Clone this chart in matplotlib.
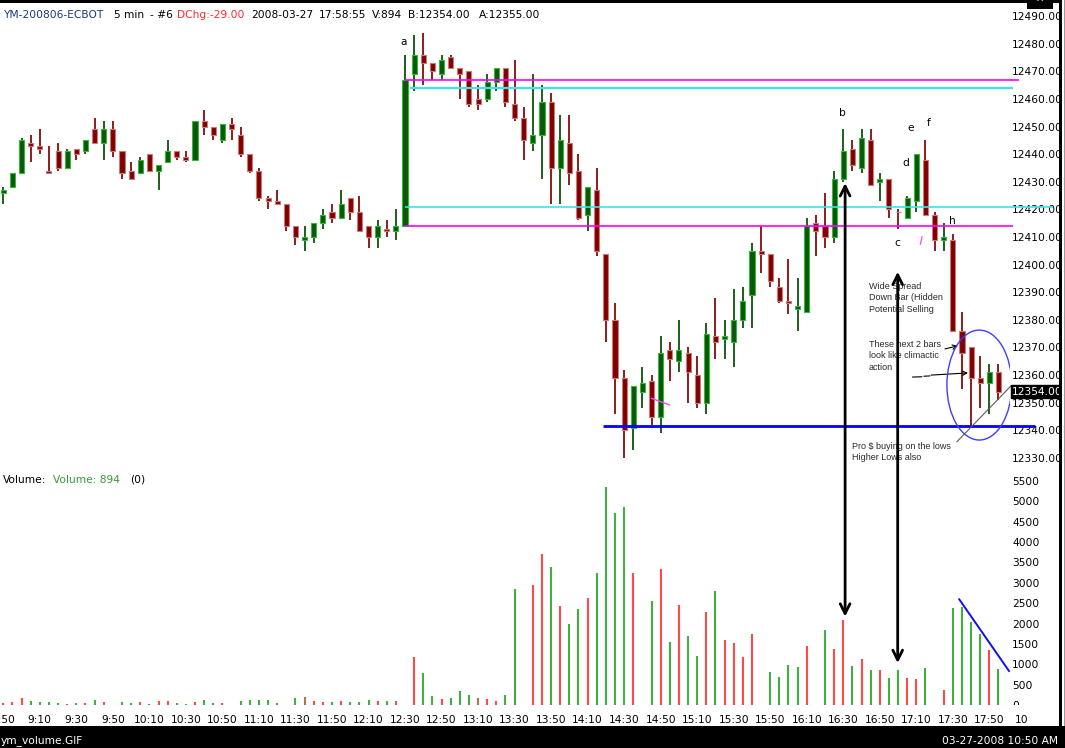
import numpy as np
import pandas as pd
import matplotlib
matplotlib.use("Agg")
import matplotlib.pyplot as plt
from matplotlib.patches import Rectangle, Ellipse, ConnectionPatch
from matplotlib.transforms import Bbox, TransformedBbox, blended_transform_factory

plt.rcParams['font.family'] = ['DejaVu Sans']
FS = 7.7
plt.rcParams['font.size'] = FS

# ---- YM 5-minute bars, 2008-03-27 ----
opens = [12426, 12428, 12433, 12444, 12443, 12434, 12441, 12435, 12442, 12441,
         12449, 12444, 12449, 12441, 12434, 12433, 12440, 12434, 12437, 12441,
         12439, 12438, 12452, 12450, 12445, 12451, 12447, 12440, 12434, 12424,
         12423, 12422, 12414, 12409, 12410, 12415, 12419, 12417, 12424, 12419,
         12414, 12410, 12413, 12412, 12414, 12469, 12476, 12473, 12469, 12475,
         12471, 12470, 12460, 12460, 12466, 12471, 12458, 12453, 12444, 12447,
         12459, 12435, 12444, 12434, 12418, 12427, 12404, 12380, 12359, 12341,
         12354, 12358, 12345, 12369, 12365, 12368, 12360, 12350, 12374, 12373,
         12372, 12380, 12389, 12405, 12404, 12392, 12387, 12384, 12383, 12415,
         12414, 12410, 12431, 12442, 12435, 12445, 12430, 12431, 12419, 12417,
         12423, 12438, 12418, 12409, 12409, 12376, 12370, 12359, 12357, 12361]
highs = [12428, 12433, 12446, 12447, 12449, 12443, 12444, 12442, 12442, 12445,
         12453, 12452, 12452, 12441, 12437, 12439, 12440, 12436, 12445, 12441,
         12441, 12452, 12456, 12450, 12451, 12453, 12450, 12440, 12435, 12425,
         12427, 12422, 12414, 12414, 12415, 12420, 12422, 12427, 12424, 12425,
         12414, 12416, 12416, 12420, 12476, 12483, 12484, 12473, 12476, 12476,
         12471, 12470, 12465, 12469, 12471, 12471, 12474, 12457, 12469, 12465,
         12462, 12454, 12454, 12440, 12428, 12435, 12404, 12386, 12362, 12356,
         12363, 12360, 12374, 12372, 12380, 12370, 12367, 12379, 12388, 12380,
         12391, 12392, 12408, 12414, 12404, 12395, 12402, 12395, 12417, 12418,
         12426, 12434, 12449, 12445, 12449, 12449, 12433, 12431, 12420, 12425,
         12440, 12445, 12419, 12415, 12411, 12383, 12370, 12367, 12364, 12364]
lows = [12422, 12428, 12433, 12437, 12440, 12433, 12434, 12435, 12438, 12440,
        12444, 12438, 12439, 12431, 12431, 12433, 12434, 12427, 12437, 12438,
        12437, 12438, 12447, 12445, 12444, 12445, 12439, 12433, 12423, 12420,
        12422, 12412, 12407, 12405, 12408, 12413, 12415, 12417, 12416, 12412,
        12406, 12406, 12410, 12409, 12414, 12463, 12465, 12467, 12467, 12471,
        12460, 12457, 12456, 12459, 12463, 12457, 12452, 12438, 12441, 12431,
        12422, 12422, 12429, 12416, 12412, 12403, 12372, 12346, 12330, 12333,
        12348, 12342, 12339, 12358, 12361, 12350, 12348, 12346, 12366, 12366,
        12363, 12377, 12377, 12397, 12392, 12386, 12382, 12376, 12383, 12403,
        12406, 12408, 12430, 12434, 12433, 12429, 12423, 12417, 12413, 12417,
        12419, 12418, 12405, 12405, 12376, 12355, 12342, 12348, 12346, 12351]
closes = [12427, 12433, 12445, 12443, 12442, 12433, 12435, 12441, 12440, 12445,
          12444, 12449, 12441, 12433, 12431, 12438, 12434, 12436, 12441, 12439,
          12438, 12452, 12450, 12447, 12451, 12449, 12440, 12434, 12424, 12423,
          12422, 12414, 12410, 12410, 12415, 12418, 12417, 12422, 12419, 12412,
          12410, 12414, 12412, 12414, 12467, 12476, 12473, 12470, 12474, 12471,
          12469, 12458, 12458, 12466, 12471, 12459, 12453, 12445, 12447, 12459,
          12435, 12445, 12433, 12417, 12428, 12405, 12380, 12359, 12340, 12356,
          12357, 12345, 12368, 12366, 12369, 12361, 12350, 12375, 12372, 12374,
          12380, 12387, 12405, 12404, 12394, 12387, 12386, 12385, 12414, 12412,
          12410, 12431, 12441, 12436, 12446, 12429, 12431, 12420, 12419, 12424,
          12440, 12418, 12409, 12410, 12376, 12368, 12359, 12357, 12361, 12354]

# volume per bar (None = no print), and its tick direction: u up, d down, n neutral
volumes = [40, 65, 180, 105, 80, 80, 60, 35, 60, 40,
           125, 65, None, 80, 50, 75, 35, 100, 100, 50,
           35, 85, 125, 40, 40, None, 100, 125, 125, 125,
           40, None, 165, 205, 100, 85, 85, 100, 85, 65,
           125, 100, 100, 100, None, 1190, 790, 225, 150, 175,
           345, 250, 165, 140, 100, 240, 2850, None, 2940, 3710,
           3380, 2440, 1980, 2360, 2620, 3250, 5340, 4720, 4870, 3230,
           None, 2560, 3340, 1535, 2450, 1700, 1205, 2280, 2790, 1585,
           1520, 1190, 1740, None, 810, 695, 980, 940, 1450, None,
           1850, 1380, 2090, 955, 1140, 865, 850, 670, 850, 670,
           645, 915, None, 380, 2385, 2400, 2030, 1750, 1360, 894]
vol_dir = ("ddduuuudud" "ud-uududdu" "uduud-uuuu" "u-undduduu" "udud-duudu"
           "uundduu-dd" "uduuduuuud" "-ududuudud" "ddd-uuuud-" "uddududuud"
           "du-duuuudu")

price_ticks = np.arange(12330, 12491, 10)
volume_ticks = np.arange(0, 5501, 500)
session_start = "2008-03-27 08:50"

# reference levels drawn on the chart
breakout_bar = 44
cyan_levels = [12464, 12421]
support_level = 12341.5

o = np.array(opens, float)
h = np.array(highs, float)
l = np.array(lows, float)
c = np.array(closes, float)
n = len(c)
x = np.arange(n)
times = pd.date_range(session_start, periods=n, freq="5min")
vol = np.array([np.nan if v is None else v for v in volumes], float)

W, H = 1065, 748
fig = plt.figure(figsize=(W / 100, H / 100), dpi=100)
fig.patch.set_facecolor("white")


def fy(py):
    return 1 - py / H


ax = fig.add_axes([0, fy(470), 1010 / W, (470 - 4) / H])
axv = fig.add_axes([0, fy(705), 1010 / W, (705 - 470) / H], sharex=ax)
for a in (ax, axv):
    for s in a.spines.values():
        s.set_visible(False)
    a.set_facecolor("none")

ax.set_xlim(-0.36, 110.26)
ax.set_ylim(12325.65, 12494.35)
axv.set_ylim(0, 5769)

# ---- candles ----
up = c > o
wick_col = np.where(up, "#1d5e1d", "#8e1c1c")
face_col = np.where(up, "#0b570b", "#800000")
edge_col = np.where(up, "#38b838", "#c97a7a")
ax.vlines(x, l, h, colors=wick_col, lw=1.4, zorder=2)
ax.bar(x, np.abs(c - o), bottom=np.minimum(o, c), width=0.56,
       color=face_col, edgecolor=edge_col, linewidth=0.8, zorder=3)

# ---- volume ----
vcol_map = {"u": "#44ad44", "d": "#ff4a4a", "n": "#a5784f", "-": "#ffffff"}
vcols = [vcol_map[ch] for ch in vol_dir]
axv.vlines(x, 0, vol, colors=vcols, lw=1.5, zorder=2)

# ---- axes / ticks ----
ax.yaxis.tick_right()
ax.set_yticks(price_ticks)
ax.set_yticklabels([f"{p:.2f}" for p in price_ticks])
ax.tick_params(axis="y", length=0, pad=1.5, labelsize=FS)
ax.tick_params(axis="x", bottom=False, labelbottom=False)

axv.yaxis.tick_right()
axv.set_yticks(volume_ticks)
axv.set_yticklabels([str(v) for v in volume_ticks])
axv.tick_params(axis="y", length=0, pad=1.5, labelsize=FS)
tick_idx = np.arange(0, n, 4)
axv.set_xticks(tick_idx)
axv.set_xticklabels([f"{times[i].hour}:{times[i].minute:02d}" for i in tick_idx])
axv.tick_params(axis="x", length=0, pad=7.2, labelsize=FS)
axv.text(111.55, -0.062, "10", transform=blended_transform_factory(axv.transData, axv.transAxes),
         ha="center", va="center", fontsize=FS, clip_on=False)

clip = TransformedBbox(Bbox([[0, fy(705)], [1, 1]]), fig.transFigure)
for lab in axv.yaxis.get_ticklabels():
    lab.set_clip_box(clip)
    lab.set_clip_on(True)

# ---- horizontal levels ----
lv = ax.hlines([c[breakout_bar]], breakout_bar, 111.25, colors="#ff00ff", lw=1.2, zorder=5)
lv.set_clip_on(False)
lv = ax.hlines([o[breakout_bar]], breakout_bar, 110.6, colors="#ff00ff", lw=1.2, zorder=5)
lv.set_clip_on(False)
lv = ax.hlines([cyan_levels[0]], breakout_bar + 0.5, 110.6, colors="#3fe3e3", lw=1.6, zorder=5)
lv.set_clip_on(False)
lv = ax.hlines([cyan_levels[1]], breakout_bar, 115, colors="#3fe3e3", lw=1.2, zorder=5)
lv.set_clip_on(False)
lv = ax.hlines([support_level], 65.7, 113.0, colors="#0000ff", lw=2.0, zorder=5)
lv.set_clip_on(False)

# small marks
ax.plot([71.0, 72.95], [12351.6, 12349.2], color="#ff44ff", lw=1.0, zorder=6)
ax.plot([100.62, 100.45], [12410.0, 12407.4], color="#ff55ff", lw=1.0, zorder=6)

# swing letters
for s, xx, yy in [("a", 43.8, 12480.6), ("b", 91.9, 12454.9), ("c", 97.9, 12407.8),
                  ("d", 98.8, 12436.8), ("e", 99.4, 12449.3), ("f", 101.4, 12451.2),
                  ("h", 104.0, 12415.8)]:
    ax.text(xx, yy, s, ha="center", va="center", fontsize=FS, color="black", zorder=7)

# last price marker
ax.annotate(f"{c[-1]:.2f}", xy=(1, c[-1]), xycoords=("axes fraction", "data"),
            xytext=(1.3, 0), textcoords="offset points", ha="left", va="center",
            color="white", fontsize=FS, zorder=8,
            bbox=dict(boxstyle="square,pad=0.12", fc="black", ec="black"))

# circled area and notes
ax.add_patch(Ellipse((106.9, 12356.4), 7.1, 39.8, fill=False, ec="#3d3dff", lw=1.0, zorder=6))
ax.plot([104.45, 110.37], [12335.9, 12356.1], color="#5a5a5a", lw=0.8, zorder=6, clip_on=False)

note_kw = dict(fontsize=6.5, color="#2a2a2a", ha="left", va="top", linespacing=1.35, zorder=7,
               family="Liberation Sans")
ax.text(94.82, 12393.7, "Wide Spread\nDown Bar (Hidden\nPotential Selling", **note_kw)
ax.text(94.82, 12372.7, "These next 2 bars\nlook like climactic\naction", **note_kw)
ax.text(92.92, 12335.8, "Pro $ buying on the lows\nHigher Lows also", **note_kw)

ax.annotate("", xy=(104.56, 12370.6), xytext=(103.14, 12369.5),
            arrowprops=dict(arrowstyle="->", lw=0.8, color="black", shrinkA=0, shrinkB=0))
ax.plot([99.6, 100.6], [12359.3, 12359.4], color="black", lw=0.8)
ax.plot([100.85, 101.45], [12359.6, 12359.7], color="black", lw=0.8)
ax.annotate("", xy=(105.66, 12360.8), xytext=(101.6, 12360.0),
            arrowprops=dict(arrowstyle="->", lw=0.8, color="black", shrinkA=0, shrinkB=0))

# volume trend line
axv.plot([104.7, 110.15], [2595, 835], color="#1010ee", lw=1.4, zorder=5, clip_on=False)

# long arrows linking price bars to their volume
for xa, pa, va_ in [(92.2, 12429.5, 2170), (97.96, 12397.4, 1031)]:
    con = ConnectionPatch(xyA=(xa, pa), coordsA=ax.transData,
                          xyB=(xa, va_), coordsB=axv.transData,
                          arrowstyle="<->,head_length=0.7,head_width=0.35",
                          lw=2.0, color="black", shrinkA=0, shrinkB=0, zorder=9)
    fig.add_artist(con)

# ---- header and panel captions ----
hdr_y = fy(14.5)
header = [("YM-200806-ECBOT", 3.6, "#1a3a78"), ("5 min", 113.6, "black"),
          ("- #6", 150, "black"), ("DChg:-29.00", 176.8, "#ff2a2a"),
          (times[-1].strftime("%Y-%m-%d"), 251, "black"), ("17:58:55", 319, "black"),
          (f"V:{volumes[-1]}", 371.5, "black"), (f"B:{c[-1]:.2f}", 407.5, "black"),
          (f"A:{c[-1] + 1:.2f}", 478.5, "black")]
for s, px, col in header:
    fig.text(px / W, hdr_y, s, color=col, ha="left", va="center", fontsize=FS)

fig.text(2.7 / W, fy(480), "Volume:", color="black", ha="left", va="center", fontsize=FS)
fig.text(52.7 / W, fy(480), f"Volume: {volumes[-1]}", color="#3a9a3a", ha="left", va="center", fontsize=FS)
fig.text(130 / W, fy(480), "(0)", color="black", ha="left", va="center", fontsize=FS)

# ---- window frame ----
frame = [
    ((0, fy(2.5)), 1, 2.5 / H, "black"),
    ((1027 / W, fy(8.5)), 26 / W, 8.5 / H, "black"),
    ((1061.5 / W, fy(726)), 2 / W, 726 / H, "white"),
    ((1063.5 / W, fy(726)), 1.5 / W, 726 / H, "#9a9a9a"),
    ((1059 / W, fy(726)), 2.5 / W, 726 / H, "black"),
    ((0, 0), 1, 22 / H, "black"),
]
for (xy, w, hh, col) in frame:
    fig.add_artist(Rectangle(xy, w, hh, transform=fig.transFigure, fc=col, ec="none", zorder=10))
fig.text(1040 / W, fy(3), "^", color="white", ha="center", va="center", fontsize=7, zorder=11)
fig.text(1 / W, fy(740.5), "ym_volume.GIF", color="white", ha="left", va="center", fontsize=FS, zorder=11)
fig.text(1058 / W, fy(740.5), "03-27-2008 10:50 AM", color="white", ha="right", va="center",
         fontsize=FS, zorder=11)

fig.savefig("out.png", dpi=100)
